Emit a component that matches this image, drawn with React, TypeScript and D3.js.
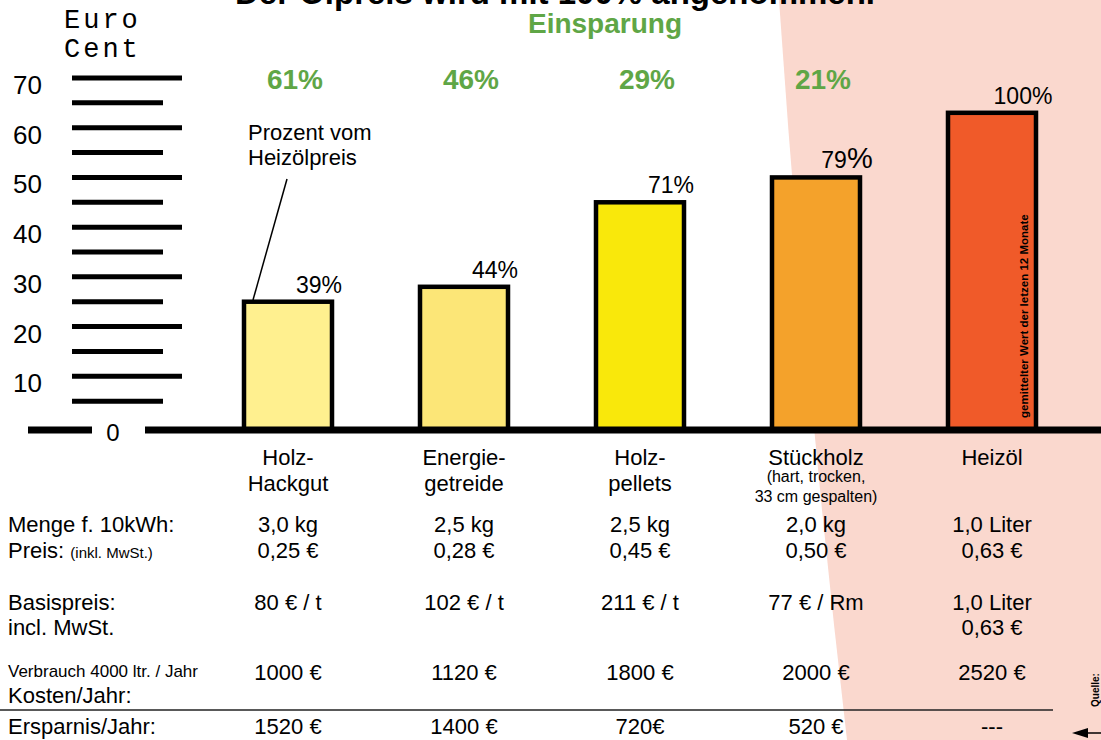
import * as d3 from "d3";
import React, { useRef, useEffect } from "react";

// chart data
const categories = ["Holz-Hackgut", "Energiegetreide", "Holzpellets", "Stückholz", "Heizöl"];
const categoryLines = [["Holz-", "Hackgut"], ["Energie-", "getreide"], ["Holz-", "pellets"], ["Stückholz"], ["Heizöl"]];
const pricesCent = [25, 28, 45, 50, 63];
const percentOfOil = ["39", "44", "71", "79", "100"];
const savingsPercent = ["61%", "46%", "29%", "21%"];
const barColors = ["#FFF08F", "#FCE677", "#F9E80B", "#F4A22B", "#F05A29"];
const yTicks = [10, 20, 30, 40, 50, 60, 70];

const mengeRow = ["3,0 kg", "2,5 kg", "2,5 kg", "2,0 kg", "1,0 Liter"];
const preisRow = ["0,25 €", "0,28 €", "0,45 €", "0,50  €", "0,63 €"];
const basisRow = ["80 € / t", "102 € / t", "211 € / t", "77 € / Rm", "1,0 Liter"];
const basisRow2 = ["", "", "", "", "0,63 €"];
const kostenRow = ["1000 €", "1120 €", "1800 €", "2000 €", "2520 €"];
const ersparnisRow = ["1520 €", "1400 €", "720€", "520 €", "---"];

const FONT = "'Liberation Sans', Arial, sans-serif";
const GREEN = "#5FA646";

function App() {
    const svgRef = useRef(null);

    useEffect(() => {
        const w = 1101;
        const h = 740;
        const svg = d3.select(svgRef.current)
            .attr("width", w)
            .attr("height", h)
            .style("font-family", FONT);
        svg.selectAll("*").remove();

        const baseY = 430;
        const x = d3.scaleBand().domain(categories).range([200, 1080]).paddingInner(0.5).paddingOuter(0.25);
        const y = d3.scaleLinear().domain([0, 70]).range([426, 78]);
        const cx = (i) => x(categories[i]) + x.bandwidth() / 2;

        // pink background on the right
        svg.append("path")
            .attr("d", "M779,0 L1101,0 L1101,740 L847,740 Q805,380 779,0 Z")
            .attr("fill", "#FAD8CE");

        // title (cut off at top, as in the original)
        svg.append("text")
            .attr("x", 555).attr("y", 4)
            .attr("text-anchor", "middle")
            .attr("font-size", 33).attr("font-weight", "bold")
            .text("Der Ölpreis wird mit 100% angenommen.");

        svg.append("text")
            .attr("x", 605).attr("y", 33)
            .attr("text-anchor", "middle")
            .attr("font-size", 28).attr("font-weight", "bold")
            .attr("fill", GREEN)
            .text("Einsparung");

        // Euro Cent
        ["Euro", "Cent"].forEach((t, i) => {
            svg.append("text")
                .attr("x", 64).attr("y", 28 + i * 29)
                .attr("font-family", "'Liberation Mono', 'Courier New', monospace")
                .attr("font-size", 27)
                .attr("letter-spacing", 3)
                .text(t);
        });

        // y ticks: long lines at values, short lines at halves
        const ax = svg.append("g");
        yTicks.forEach(v => {
            ax.append("line")
                .attr("x1", 72).attr("x2", 182)
                .attr("y1", y(v)).attr("y2", y(v))
                .attr("stroke", "#000").attr("stroke-width", 5);
            ax.append("line")
                .attr("x1", 72).attr("x2", 163)
                .attr("y1", y(v - 5)).attr("y2", y(v - 5))
                .attr("stroke", "#000").attr("stroke-width", 5);
            ax.append("text")
                .attr("x", 42).attr("y", y(v) + 16)
                .attr("text-anchor", "end")
                .attr("font-size", 26)
                .text(v);
        });
        ax.append("text")
            .attr("x", 113).attr("y", baseY + 11)
            .attr("text-anchor", "middle")
            .attr("font-size", 24)
            .text("0");
        ax.append("line")
            .attr("x1", 28).attr("x2", 92).attr("y1", baseY).attr("y2", baseY)
            .attr("stroke", "#000").attr("stroke-width", 7);

        // bars
        svg.selectAll(".bar")
            .data(pricesCent)
            .join("rect")
                .attr("class", "bar")
                .attr("x", (d, i) => x(categories[i]))
                .attr("y", d => y(d))
                .attr("width", x.bandwidth())
                .attr("height", d => baseY - y(d))
                .attr("fill", (d, i) => barColors[i])
                .attr("stroke", "#000")
                .attr("stroke-width", 4.5);

        svg.append("line")
            .attr("x1", 145).attr("x2", w).attr("y1", baseY).attr("y2", baseY)
            .attr("stroke", "#000").attr("stroke-width", 7);

        // percent of oil price (79 has a bigger % sign)
        const pct = svg.selectAll(".pct")
            .data(percentOfOil)
            .join("text")
                .attr("class", "pct")
                .attr("x", (d, i) => cx(i) + 31)
                .attr("y", (d, i) => y(pricesCent[i]) - 9)
                .attr("text-anchor", "middle")
                .attr("font-size", 23);
        pct.append("tspan").text(d => d);
        pct.append("tspan")
            .attr("font-size", (d, i) => i === 3 ? 29 : 23)
            .text("%");

        // savings
        svg.selectAll(".sav")
            .data(savingsPercent)
            .join("text")
                .attr("class", "sav")
                .attr("x", (d, i) => cx(i) + 7)
                .attr("y", 89)
                .attr("text-anchor", "middle")
                .attr("font-size", 28).attr("font-weight", "bold")
                .attr("fill", GREEN)
                .text(d => d);

        // annotation
        ["Prozent vom", "Heizölpreis"].forEach((t, i) => {
            svg.append("text")
                .attr("x", 248).attr("y", 140 + i * 25)
                .attr("font-size", 22)
                .text(t);
        });
        svg.append("line")
            .attr("x1", 287).attr("y1", 179).attr("x2", 253).attr("y2", 300)
            .attr("stroke", "#000").attr("stroke-width", 1.5);

        // rotated note inside oil bar
        const oilRight = x(categories[4]) + x.bandwidth();
        svg.append("text")
            .attr("transform", `translate(${oilRight - 8},${baseY - 12}) rotate(-90)`)
            .attr("font-size", 11.5).attr("font-weight", "bold")
            .text("gemittelter Wert der letzen 12 Monate");

        // category labels
        categoryLines.forEach((lines, i) => {
            lines.forEach((t, j) => {
                svg.append("text")
                    .attr("x", cx(i)).attr("y", 465 + j * 26)
                    .attr("text-anchor", "middle")
                    .attr("font-size", 22)
                    .text(t);
            });
        });
        ["(hart, trocken,", "33 cm gespalten)"].forEach((t, j) => {
            svg.append("text")
                .attr("x", cx(3)).attr("y", 482 + j * 20)
                .attr("text-anchor", "middle")
                .attr("font-size", 16)
                .text(t);
        });

        // table
        const rows = [
            [mengeRow, 532],
            [preisRow, 558],
            [basisRow, 610],
            [basisRow2, 635],
            [kostenRow, 680],
            [ersparnisRow, 734]
        ];
        rows.forEach(([vals, ry]) => {
            vals.forEach((t, i) => {
                svg.append("text")
                    .attr("x", cx(i)).attr("y", ry)
                    .attr("text-anchor", "middle")
                    .attr("font-size", 22)
                    .text(t);
            });
        });

        const label = (t, ly, size) => svg.append("text")
            .attr("x", 8).attr("y", ly).attr("font-size", size).text(t);
        label("Menge f. 10kWh:", 532, 22);
        const preis = label("Preis: ", 558, 22);
        preis.append("tspan").attr("font-size", 15).text("(inkl. MwSt.)");
        label("Basispreis:", 610, 22);
        label("incl. MwSt.", 635, 22);
        label("Verbrauch 4000 ltr. / Jahr", 677, 17);
        label("Kosten/Jahr:", 703, 22);
        label("Ersparnis/Jahr:", 734, 22);

        svg.append("line")
            .attr("x1", 0).attr("x2", 1053).attr("y1", 710).attr("y2", 710)
            .attr("stroke", "#222").attr("stroke-width", 1.5);

        // Quelle + arrow
        svg.append("text")
            .attr("transform", "translate(1099,707) rotate(-90)")
            .attr("font-size", 10).attr("font-weight", "bold")
            .text("Quelle:");
        svg.append("line")
            .attr("x1", 1101).attr("x2", 1080).attr("y1", 733).attr("y2", 733)
            .attr("stroke", "#000").attr("stroke-width", 1.5);
        svg.append("path")
            .attr("d", "M1072,733 L1088,728 L1088,738 Z")
            .attr("fill", "#000");
    }, []);

    return (
        <div className="App">
            <svg ref={svgRef} style={{ position: "absolute", left: 0, top: 0 }}></svg>
        </div>
    );
}

export default App;
